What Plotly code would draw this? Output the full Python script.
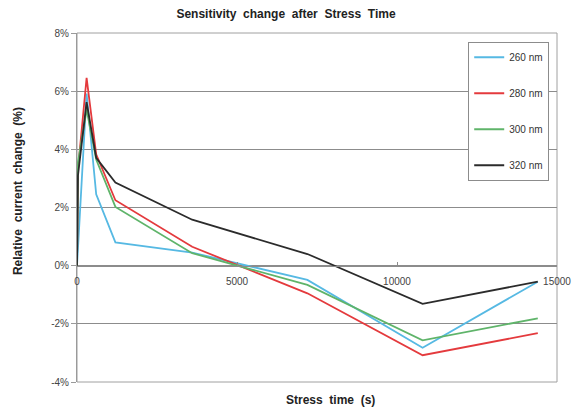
import plotly.graph_objects as go

# Stress time (s) at each measurement
stress_time = [0, 30, 300, 600, 1200, 3600, 7200, 10800, 14400]
stress_time_260 = [0, 300, 600, 1200, 3600, 7200, 10800, 14400]

# Relative current change (%) per wavelength
change_260 = [0.0, 5.92, 2.45, 0.80, 0.45, -0.49, -2.82, -0.55]
change_280 = [0.0, 3.3, 6.46, 3.83, 2.25, 0.65, -0.95, -3.08, -2.32]
change_300 = [0.0, 3.55, 5.37, 3.65, 2.02, 0.43, -0.66, -2.57, -1.81]
change_320 = [0.0, 3.1, 5.62, 3.71, 2.86, 1.58, 0.40, -1.31, -0.55]

series = [
    ("260 nm", stress_time_260, change_260, "#56B9E3"),
    ("280 nm", stress_time, change_280, "#E43A3D"),
    ("300 nm", stress_time, change_300, "#5FB46A"),
    ("320 nm", stress_time, change_320, "#2B2B2B"),
]

x_ticks = [0, 5000, 10000, 15000]
y_ticks = [-4, -2, 0, 2, 4, 6, 8]
y_tick_labels = [f"{v}%" for v in y_ticks]

fig = go.Figure()
for name, xs, ys, color in series:
    fig.add_trace(go.Scatter(x=xs, y=ys, name=name, mode="lines", legendgroup=name,
                             line=dict(color=color, width=1.8)))

font_family = "Liberation Sans, Arial, sans-serif"

fig.update_layout(
    width=572, height=407,
    margin=dict(l=77, r=15, t=33, b=25),
    paper_bgcolor="white", plot_bgcolor="white",
    font=dict(family=font_family, size=10, color="#444"),
    title=dict(text="<b>Sensitivity  change  after  Stress  Time</b>",
               x=0.50, xanchor="center", y=0.966, yanchor="middle",
               font=dict(size=12, color="#222")),
    showlegend=True,
    legend=dict(x=0.815, xanchor="left", y=0.975, yanchor="top",
                bgcolor="white", bordercolor="#8c8c8c", borderwidth=1,
                font=dict(size=10, color="#333"), tracegroupgap=17,
                itemwidth=30),
    xaxis=dict(range=[0, 15000], tickvals=x_ticks, ticktext=[str(v) for v in x_ticks],
               showgrid=False, zeroline=False, showline=True, linecolor="#8c8c8c",
               linewidth=1, anchor="free", position=1/3, ticks="inside",
               ticklen=4, tickcolor="#8c8c8c", automargin=False,
               ticklabelstandoff=6,
               tickfont=dict(size=10, color="#444"),
               title=None),
    yaxis=dict(range=[-4, 8], tickvals=y_ticks, ticktext=y_tick_labels,
               showgrid=True, gridcolor="#8c8c8c", gridwidth=1,
               zeroline=False, showline=True, linecolor="#9a9a9a", linewidth=1,
               ticks="outside", ticklen=5, tickcolor="#9a9a9a", automargin=False,
               tickfont=dict(size=10, color="#444"),
               title=None),
)

# Plot-area frame
fig.add_shape(type="rect", xref="x domain", yref="y domain", x0=0, x1=1, y0=0, y1=1,
              line=dict(color="#a0a0a0", width=1), layer="below")

# Axis titles
fig.add_annotation(text="<b>Stress  time  (s)</b>", xref="paper", yref="paper",
                   x=0.529, y=-0.052, xanchor="center", yanchor="middle", showarrow=False,
                   font=dict(size=12, color="#222"))
fig.add_annotation(text="<b>Relative  current  change  (%)</b>", xref="paper", yref="paper",
                   x=-0.123, y=0.547, xanchor="center", yanchor="middle", showarrow=False,
                   textangle=-90, font=dict(size=12, color="#222"))

fig.write_html("out.html")
